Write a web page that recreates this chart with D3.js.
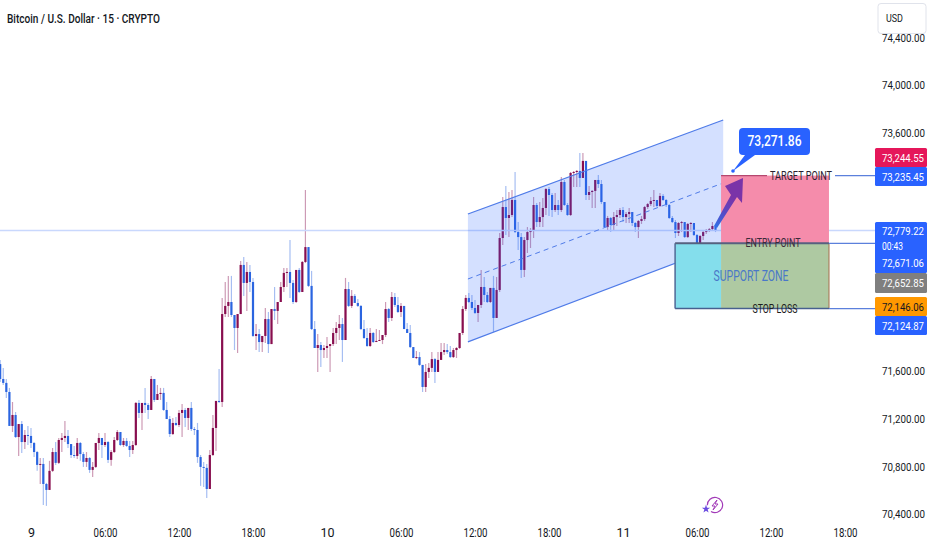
<!DOCTYPE html>
<html lang="en">
  <head>
    <meta charset="UTF-8" />
    <title>Bitcoin / U.S. Dollar</title>
    <style>
      body { margin: 0; background: #fff; }
      svg { display: block; }
      text { font-family: Roboto, sans-serif; }
    </style>
  </head>
  <body>
    <script src="https://d3js.org/d3.v7.min.js"></script>
    <script>
      // 15 minute candles. open = previous close
      const firstOpen = 71658;
      const closes = [
        71533,71500,71424,71139,71231,71046,71155,71004,71063,71055,
        70996,70920,70812,70820,70652,70602,70762,70920,70829,71021,
        71038,71055,70987,70895,70887,70996,70903,70837,70870,70770,
        70795,70996,71038,70979,71004,70854,70920,71021,71088,70979,
        71013,70971,70937,70979,71332,71248,71332,71315,71273,71533,
        71357,71407,71416,71273,71197,71071,71164,71147,71248,71273,
        71206,71290,71113,71105,70878,70795,70787,70610,70895,71122,
        71349,71340,72078,72146,72179,72070,71961,72078,72490,72339,
        72431,72347,71894,71910,71843,71894,72036,71826,72120,72104,
        72179,72305,72423,72431,72339,72179,72448,72263,72515,72640,
        72314,71952,71793,71818,71776,71793,71810,71826,71919,71961,
        71994,71860,72288,72146,72230,72171,72146,71952,71877,71810,
        71919,71843,71852,71860,71902,72120,72045,72221,72154,72095,
        72146,71952,71919,71801,71709,71717,71651,71466,71592,71626,
        71700,71592,71693,71759,71776,71759,71717,71776,71793,71919,
        72120,72213,72179,72129,72087,72154,72305,72238,72179,72297,
        72045,72280,72716,72976,72884,72909,73035,72766,72724,72448,
        72699,72766,72775,72993,72850,72892,72968,73127,73077,72951,
        72993,72951,73186,72993,72909,73262,73270,73279,73220,73363,
        73077,73102,73111,73203,73169,73018,72808,72884,72825,72892,
        72909,72951,72892,72917,72934,72842,72808,72859,72875,72976,
        73001,73027,73035,72985,73069,73035,72993,72884,72850,72758,
        72842,72850,72724,72834,72842,72741,72674,72733,72766,72783,
        72791,72817,72775,
      ];
      const highs = [
        71693,71626,71533,71458,71340,71256,71155,71181,71105,71139,
        71122,71004,70929,70870,70870,70661,70846,70954,71004,71038,
        71080,71181,71105,70987,70971,71038,71004,70920,70920,70878,
        70837,70996,71080,71038,71080,71013,70937,71046,71105,71088,
        71038,71038,71013,71013,71340,71357,71332,71458,71332,71558,
        71533,71483,71458,71458,71340,71223,71206,71214,71273,71323,
        71290,71290,71340,71130,71164,70895,70837,70820,70937,71231,
        71349,71617,72213,72347,72398,72398,72070,72078,72523,72557,
        72515,72490,72381,71994,71952,71894,72129,72095,72120,72305,
        72179,72347,72465,72465,72699,72364,72448,72465,72523,73119,
        72640,72440,72020,71910,71843,71818,71885,71826,71961,72011,
        72070,72045,72381,72347,72280,72246,72204,72154,72028,71961,
        71961,71927,71952,71944,71902,72179,72129,72263,72255,72221,
        72171,72146,72003,71986,71801,71768,71759,71651,71659,71668,
        71759,71709,71759,71835,71835,71826,71810,71793,71801,71919,
        72146,72238,72255,72238,72196,72154,72448,72389,72263,72297,
        72398,72389,72758,73060,73152,73102,73119,73270,72850,72758,
        72724,72808,72800,73060,73010,73018,73052,73136,73144,73094,
        73094,73035,73228,73203,73010,73270,73279,73287,73429,73429,
        73363,73152,73119,73203,73245,73203,73018,72901,72892,72934,
        72951,72968,72976,72934,72968,72934,72850,72867,72901,72985,
        73010,73060,73119,73035,73094,73085,73043,73001,72901,72867,
        72850,72859,72850,72842,72850,72842,72750,72741,72775,72791,
        72800,72850,72825,
      ];
      const lows = [
        71508,71483,71374,71139,71088,71038,70887,70912,70946,70979,
        70954,70878,70762,70652,70476,70468,70602,70753,70812,70820,
        70920,71004,70954,70870,70870,70862,70846,70795,70795,70745,
        70711,70787,70937,70870,70963,70829,70804,70912,71013,70971,
        70963,70963,70878,70903,70971,71206,71105,71248,71197,71273,
        71340,71357,71357,71265,71197,71046,71063,71139,71130,71046,
        71130,71105,71097,71063,70829,70636,70627,70535,70610,70887,
        70929,71332,71298,72053,72053,72053,71776,71751,72078,72230,
        72104,72263,71885,71776,71759,71759,71835,71751,71826,72028,
        71994,72179,72263,72305,72213,72163,72171,72255,72263,72506,
        72305,71944,71793,71592,71634,71709,71709,71592,71810,71826,
        71860,71676,71860,72137,72129,72171,72137,71944,71869,71801,
        71801,71835,71843,71852,71826,71885,72011,72020,72137,72087,
        72053,71952,71919,71793,71709,71700,71642,71424,71424,71542,
        71592,71500,71592,71693,71735,71743,71709,71709,71709,71785,
        71902,72104,72171,72112,72078,72011,72129,72179,72171,72171,
        71927,72045,72263,72657,72741,72724,72892,72758,72615,72381,
        72389,72590,72632,72716,72808,72808,72808,72909,72901,72892,
        72934,72909,72934,72985,72901,72901,73144,73144,73144,73220,
        73035,73035,72968,72968,73136,73001,72800,72775,72766,72783,
        72817,72884,72850,72842,72842,72817,72766,72716,72834,72859,
        72959,72985,72976,72976,72976,73027,72976,72875,72842,72716,
        72733,72766,72716,72716,72766,72733,72657,72666,72699,72750,
        72766,72775,72766,
      ];

      // the other round ticks sit behind the price tags in the picture
      const priceTicks = [74400,74000,73600,71600,71200,70800,70400];
      const timeTickBars = [10,34,58,82,106,130,154,178,202,226,250,274];
      const timeTickLabels = ["9","06:00","12:00","18:00","10","06:00","12:00","18:00","11","06:00","12:00","18:00"];

      const lastPrice = 72779.22;
      const targetPrice = 73240;
      const entryPrice = 72671;
      const stopPrice = 72124;

      // channel corners as [bar, price]
      const channelTop = [[151.7,72917],[234.5,73706]];
      const channelMid = [[151.7,72372],[234.5,73178]];
      const channelBottom = [[151.7,71844],[234.5,72657]];

      const tagLabels = ["73,244.55","73,235.45","72,779.22","00:43","72,671.06","72,652.85","72,146.06","72,124.87"];

      const width = 932, height = 550;
      const axisLeft = 875;

      const x = d3.scaleLinear().domain([10, 274]).range([31, 845]);
      const y = d3.scaleLinear().domain([74000, 70400]).range([85, 514]);

      const upColor = "#880e4f", downColor = "#2b65e0";

      const svg = d3.select("body").append("svg")
        .attr("width", width).attr("height", height);

      const candles = closes.map((c, i) => ({
        i, open: i ? closes[i - 1] : firstOpen, close: c, high: highs[i], low: lows[i],
      }));
      const col = (d) => (d.close >= d.open ? upColor : downColor);

      // candles
      const candle = svg.append("g").selectAll("g").data(candles).join("g");
      candle.append("line")
        .attr("x1", (d) => x(d.i)).attr("x2", (d) => x(d.i))
        .attr("y1", (d) => y(d.high)).attr("y2", (d) => y(d.low))
        .attr("stroke", col).attr("stroke-opacity", 0.42).attr("stroke-width", 1.2);
      candle.append("rect")
        .attr("x", (d) => x(d.i) - 1.1).attr("width", 2.2)
        .attr("y", (d) => y(Math.max(d.open, d.close)))
        .attr("height", (d) => Math.max(1, Math.abs(y(d.open) - y(d.close))))
        .attr("fill", col);

      // last price line
      svg.append("line")
        .attr("x1", 0).attr("x2", axisLeft)
        .attr("y1", y(lastPrice)).attr("y2", y(lastPrice))
        .attr("stroke", "#c9d8fd").attr("stroke-width", 1.5);

      // channel
      const line = d3.line().x((d) => x(d[0])).y((d) => y(d[1]));
      svg.append("path")
        .attr("d", line([channelTop[0], channelTop[1], channelBottom[1], channelBottom[0]]) + "Z")
        .attr("fill", "#2962ff").attr("fill-opacity", 0.2);
      svg.append("path").attr("d", line(channelTop)).attr("fill", "none").attr("stroke", "#4f7be8").attr("stroke-width", 1.2);
      svg.append("path").attr("d", line(channelBottom)).attr("fill", "none").attr("stroke", "#4f7be8").attr("stroke-width", 1.2);
      svg.append("path").attr("d", line(channelMid)).attr("fill", "none").attr("stroke", "#4f7be8")
        .attr("stroke-width", 1).attr("stroke-dasharray", "5 4");

      // zones
      const zoneLeft = x(218.9), zoneMid = x(233.8), zoneRight = x(268.8);
      svg.append("rect").attr("x", zoneMid).attr("y", y(targetPrice))
        .attr("width", zoneRight - zoneMid).attr("height", y(entryPrice) - y(targetPrice))
        .attr("fill", "#f58cab");
      svg.append("rect").attr("x", zoneLeft).attr("y", y(entryPrice))
        .attr("width", zoneMid - zoneLeft).attr("height", y(stopPrice) - y(entryPrice))
        .attr("fill", "#84deec");
      svg.append("rect").attr("x", zoneMid).attr("y", y(entryPrice))
        .attr("width", zoneRight - zoneMid).attr("height", y(stopPrice) - y(entryPrice))
        .attr("fill", "#aec9a2");
      svg.append("path")
        .attr("d", `M${zoneRight},${y(entryPrice)}V${y(stopPrice)}`)
        .attr("stroke", "#a9805f").attr("stroke-width", 1.2);
      svg.append("path")
        .attr("d", `M${zoneLeft},${y(entryPrice)}V${y(stopPrice)}`)
        .attr("stroke", "#56719c").attr("stroke-width", 1.6);
      svg.append("line").attr("x1", zoneLeft).attr("x2", zoneRight)
        .attr("y1", y(entryPrice)).attr("y2", y(entryPrice))
        .attr("stroke", "#56617f").attr("stroke-width", 2);
      svg.append("line").attr("x1", zoneLeft).attr("x2", zoneRight)
        .attr("y1", y(stopPrice)).attr("y2", y(stopPrice))
        .attr("stroke", "#47608f").attr("stroke-width", 1.6);
      svg.append("line").attr("x1", zoneRight).attr("x2", axisLeft)
        .attr("y1", y(entryPrice)).attr("y2", y(entryPrice))
        .attr("stroke", "#5b80dc").attr("stroke-width", 1.2);
      svg.append("line").attr("x1", zoneRight).attr("x2", axisLeft)
        .attr("y1", y(stopPrice)).attr("y2", y(stopPrice))
        .attr("stroke", "#5b80dc").attr("stroke-width", 1.2);
      svg.append("line").attr("x1", zoneMid).attr("x2", 767)
        .attr("y1", y(targetPrice)).attr("y2", y(targetPrice))
        .attr("stroke", "#b5476f").attr("stroke-width", 1.2);
      svg.append("line").attr("x1", 835).attr("x2", axisLeft)
        .attr("y1", y(targetPrice)).attr("y2", y(targetPrice))
        .attr("stroke", "#5b80dc").attr("stroke-width", 1.2);

      function label(txt, px, py, w, size, fill, anchor, weight) {
        return svg.append("text")
          .attr("x", px).attr("y", py)
          .attr("dy", "0.35em")
          .attr("text-anchor", anchor || "start")
          .attr("font-size", size)
          .attr("font-weight", weight || 400)
          .attr("fill", fill)
          .attr("textLength", w)
          .attr("lengthAdjust", "spacingAndGlyphs")
          .text(txt);
      }

      label("TARGET POINT", 801, y(targetPrice), 62, 12.5, "#2a2230", "middle");
      label("ENTRY POINT", 773, y(entryPrice) - 1, 55, 12.5, "#3a2a3a", "middle");
      label("STOP LOSS", 775, y(stopPrice), 45, 12.5, "#1c1c1c", "middle");
      label("SUPPORT ZONE", 751, 276, 75, 15, "#4a78c8", "middle");

      // arrow
      const grad = svg.append("defs").append("linearGradient").attr("id", "arrowGrad")
        .attr("gradientUnits", "userSpaceOnUse")
        .attr("x1", 715).attr("y1", 226).attr("x2", 743).attr("y2", 178);
      grad.append("stop").attr("offset", 0).attr("stop-color", "#2f6fe6");
      grad.append("stop").attr("offset", 0.3).attr("stop-color", "#5a48c4");
      grad.append("stop").attr("offset", 0.6).attr("stop-color", "#7a34a8");
      grad.append("stop").attr("offset", 1).attr("stop-color", "#7a34a8");
      svg.append("path")
        .attr("d", "M714,226 L731,195 L725,186 L743,178 L742,203 L737,197 L717,228 Z")
        .attr("fill", "url(#arrowGrad)");

      // callout
      svg.append("path")
        .attr("d", "M745,155 L733,171 L755,155 Z M733,171")
        .attr("fill", "#2962ff");
      svg.append("circle").attr("cx", 733).attr("cy", 171).attr("r", 1.8).attr("fill", "#2962ff");
      svg.append("rect").attr("x", 739).attr("y", 128).attr("width", 71).attr("height", 27)
        .attr("rx", 4).attr("fill", "#2962ff");
      label("73,271.86", 774.5, 141, 54, 15.5, "#fff", "middle", 500);

      // axes
      const yAxis = svg.append("g")
        .attr("transform", `translate(${axisLeft + 7},0)`)
        .call(d3.axisRight(y).tickValues(priceTicks).tickSize(0).tickPadding(0)
          .tickFormat((d) => d3.format(",.2f")(d)));
      yAxis.select(".domain").remove();
      yAxis.selectAll("text")
        .attr("font-family", "Roboto, sans-serif").attr("font-size", 11.5).attr("fill", "#131722")
        .attr("textLength", 43).attr("lengthAdjust", "spacingAndGlyphs");

      const xAxis = svg.append("g")
        .attr("transform", "translate(0,528)")
        .call(d3.axisBottom(x).tickValues(timeTickBars).tickSize(0).tickPadding(0)
          .tickFormat((d, i) => timeTickLabels[i]));
      xAxis.select(".domain").remove();
      xAxis.selectAll("text")
        .attr("font-family", "Roboto, sans-serif").attr("font-size", 12.5).attr("fill", "#131722")
        .each(function (d, i) {
          if (timeTickLabels[i].length > 2) {
            d3.select(this).attr("textLength", 24).attr("lengthAdjust", "spacingAndGlyphs");
          }
        });

      // price tags
      const tagFills = ["#e5175a", "#2962ff", "#2962ff", null, null, "#7f7f7f", "#ff9800", "#2962ff"];
      const tagTops = [148, 167, 222, 0, 0, 273, 297, 316];
      const tagHeights = [19, 19, 51, 0, 0, 20, 19, 19];
      tagFills.forEach((f, i) => {
        if (!f) return;
        svg.append("rect").attr("x", axisLeft).attr("y", tagTops[i])
          .attr("width", 52).attr("height", tagHeights[i]).attr("rx", 1.5).attr("fill", f);
      });
      const tagCentres = [157.5, 176.5, 231, 246, 263, 283, 306.5, 325.5];
      tagLabels.forEach((t, i) => {
        label(t, 882, tagCentres[i], t.length > 5 ? 42 : 21, 11.5, i === 6 ? "#131722" : "#fff");
      });

      // currency box, it hides the top of the first tick label
      svg.append("rect").attr("x", 878).attr("y", 3.5).attr("width", 48).attr("height", 30)
        .attr("rx", 3).attr("fill", "#fff").attr("stroke", "#e0e3eb");
      label("USD", 886, 18, 17, 11.5, "#131722");

      // title
      label("Bitcoin / U.S. Dollar · 15 · CRYPTO", 7, 18, 153, 13, "#131722", "start", 500);

      // lightning badge
      const badge = svg.append("g").attr("transform", "translate(715,505)");
      badge.append("path")
        .attr("d", d3.arc().innerRadius(7).outerRadius(8.2).startAngle(-1.6).endAngle(3.7)())
        .attr("fill", "#a23bb8");
      badge.append("path")
        .attr("d", "M2,-5 L-3,1 L0,1 L-2,5 L3,-1 L0,-1 Z")
        .attr("fill", "none").attr("stroke", "#a23bb8").attr("stroke-width", 1);
      svg.append("path").attr("d", d3.symbol(d3.symbolStar, 22)())
        .attr("transform", "translate(706,509)").attr("fill", "#6a4be0");
    </script>
  </body>
</html>
